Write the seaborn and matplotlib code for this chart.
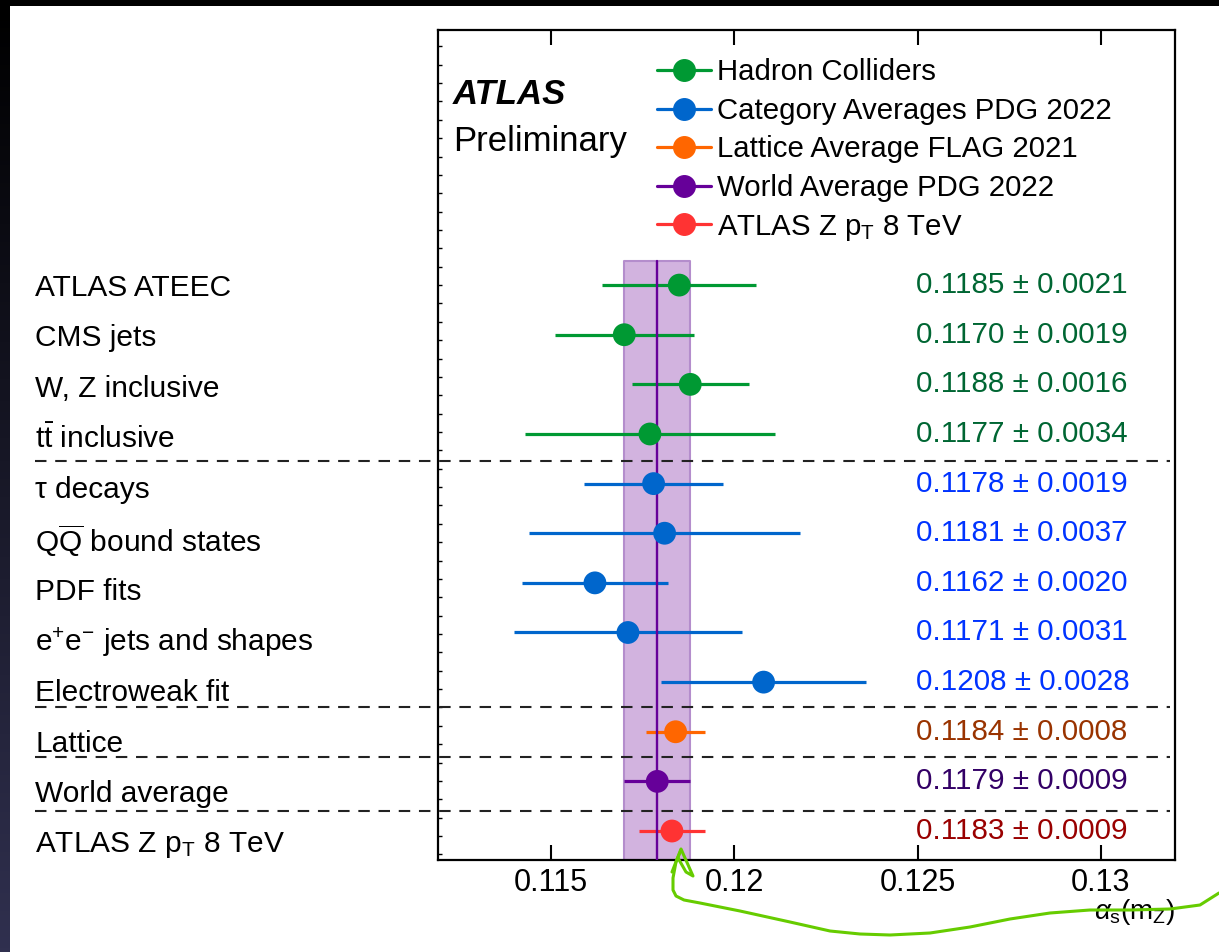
import numpy as np
import pandas as pd
import matplotlib
matplotlib.use("Agg")
import matplotlib.pyplot as plt
import matplotlib.transforms as mtransforms
from matplotlib.lines import Line2D
from matplotlib.patches import Rectangle
from matplotlib.colors import LinearSegmentedColormap
from matplotlib.ticker import MultipleLocator
import seaborn as sns

# --- measurements of alpha_s(mZ) ---
labels = [
    "ATLAS ATEEC",
    "CMS jets",
    "W, Z inclusive",
    r"$\mathrm{t\bar{t}}$ inclusive",
    "τ decays",
    r"$\mathrm{Q\overline{Q}}$ bound states",
    "PDF fits",
    r"e$^{+}$e$^{-}$ jets and shapes",
    "Electroweak fit",
    "Lattice",
    "World average",
    r"ATLAS Z p$_{\mathrm{T}}$ 8 TeV",
]
values = [0.1185, 0.1170, 0.1188, 0.1177,
          0.1178, 0.1181, 0.1162, 0.1171, 0.1208,
          0.1184, 0.1179, 0.1183]
errors = [0.0021, 0.0019, 0.0016, 0.0034,
          0.0019, 0.0037, 0.0020, 0.0031, 0.0028,
          0.0008, 0.0009, 0.0009]
group_names = [
    "Hadron Colliders",
    "Category Averages PDG 2022",
    "Lattice Average FLAG 2021",
    "World Average PDG 2022",
    r"ATLAS Z p$_{\mathrm{T}}$ 8 TeV",
]
group_sizes = [4, 5, 1, 1, 1]
marker_colors = ["#009933", "#0066cc", "#ff6600", "#660099", "#ff3333"]
text_colors = ["#006633", "#0033ff", "#993300", "#330066", "#990000"]
x_ticks = [0.115, 0.12, 0.125, 0.13]
x_tick_labels = ["0.115", "0.12", "0.125", "0.13"]
separators = [3.55, 8.5, 9.5, 10.6]

groups = [g for g, n in zip(group_names, group_sizes) for _ in range(n)]
df = pd.DataFrame({"label": labels, "value": values, "error": errors, "group": groups})
df["row"] = np.arange(len(df))
mcol = dict(zip(group_names, marker_colors))
tcol = dict(zip(group_names, text_colors))

world_val = values[labels.index("World average")]
world_err = errors[labels.index("World average")]

# --- style ---
sns.set_theme(style="white")
plt.rcParams["font.family"] = ["Liberation Sans", "DejaVu Sans"]
plt.rcParams["mathtext.fontset"] = "custom"
plt.rcParams["mathtext.rm"] = "Liberation Sans"
plt.rcParams["mathtext.it"] = "Liberation Sans:italic"
plt.rcParams["mathtext.bf"] = "Liberation Sans:bold"
plt.rcParams["text.color"] = "black"
plt.rcParams["axes.labelcolor"] = "black"
plt.rcParams["xtick.color"] = "black"
plt.rcParams["ytick.color"] = "black"

W, H = 1219, 952
fig = plt.figure(figsize=(W / 100, H / 100), dpi=100)
fig.patch.set_facecolor("white")
ax = fig.add_axes([438 / W, 1 - 860 / H, (1175 - 438) / W, (860 - 30) / H])

xlim = (0.11192, 0.13202)
ylim = (11.584, -5.14)
ax.set_xlim(*xlim)
ax.set_ylim(*ylim)

# world-average band and central line
band_top = -0.48
ax.fill_betweenx([band_top, ylim[0]], world_val - world_err, world_val + world_err,
                 facecolor="#d2b3df", edgecolor="#b48dcc", linewidth=1.5, zorder=1)
ax.plot([world_val, world_val], [band_top, ylim[0]], color="#660099", lw=1.7, zorder=4.5)

# horizontal error bars per group
for g in group_names:
    sub = df[df["group"] == g]
    ax.errorbar(sub["value"], sub["row"], xerr=sub["error"], fmt="none",
                ecolor=mcol[g], elinewidth=2.3, capsize=0, zorder=4)

# central values
sns.scatterplot(data=df, x="value", y="row", hue="group", palette=mcol,
                s=270, edgecolor="none", linewidth=0, legend=False, zorder=5, ax=ax)
ax.set_xlabel("")
ax.set_ylabel("")

# value annotations
blend_ax = mtransforms.blended_transform_factory(ax.transAxes, ax.transData)
for _, r in df.iterrows():
    ax.text(0.6486, r["row"], f"{r['value']:.4f} ± {r['error']:.4f}",
            transform=blend_ax, color=tcol[r["group"]], fontsize=21.3,
            ha="left", va="center", zorder=6)

# row labels on the left (slightly wider line pitch than the data rows)
blend_fig = mtransforms.blended_transform_factory(fig.transFigure, ax.transData)
for _, r in df.iterrows():
    ax.text(35 / W, 0.05 + r["row"] * 1.0214, r["label"], transform=blend_fig,
            fontsize=21.5, color="black", ha="left", va="center", clip_on=False)

# dashed separators between categories
for y in separators:
    fig.add_artist(Line2D([35 / W, 1170 / W], [y, y], transform=blend_fig,
                          color="#222222", lw=1.5, linestyle=(0, (5.5, 4.2))))

# axes and ticks
for s in ax.spines.values():
    s.set_visible(True)
    s.set_color("black")
    s.set_linewidth(1.6)
ax.set_xticks(x_ticks)
ax.set_xticklabels(x_tick_labels)
ax.set_yticks([])
ax.yaxis.set_minor_locator(MultipleLocator(0.37))
ax.tick_params(axis="x", which="major", direction="in", length=11, width=1.5,
               top=True, bottom=True, labelsize=22, pad=6, colors="black")
ax.tick_params(axis="y", which="minor", direction="in", length=3, width=1,
               left=True, right=False)

ax.text(1.0, -(919 - 860) / 830, r"$\alpha_{\rm s}({\rm m}_{\rm Z})$", transform=ax.transAxes,
        fontsize=20, ha="right", va="baseline")

# ATLAS label
ax.text(15 / 737, 1 - 64 / 830, "ATLAS", transform=ax.transAxes, fontsize=25,
        fontweight="bold", fontstyle="italic", ha="left", va="center")
ax.text(15 / 737, 1 - 112 / 830, "Preliminary", transform=ax.transAxes, fontsize=25,
        ha="left", va="center")

# legend
handles = [Line2D([0], [0], color=c, marker="o", markersize=15.5, lw=2.3, label=g)
           for g, c in zip(group_names, marker_colors)]
ax.legend(handles=handles, loc="upper left", bbox_to_anchor=(0.297, 0.966),
          frameon=False, fontsize=21.2, handlelength=1.85, handletextpad=0.2,
          labelspacing=0.36, borderaxespad=0, borderpad=0)

# hand-drawn green arrow pointing at the ATLAS result
px = np.array([681, 676, 673, 673, 676, 684, 700, 740, 790, 830, 860, 890, 930,
               970, 1010, 1050, 1090, 1130, 1170, 1200, 1219])
py = np.array([850, 862, 878, 890, 896, 900, 903, 911, 922, 931, 934, 935, 933,
               927, 919, 913, 910, 910, 909, 905, 893])
fig.add_artist(Line2D(px / W, 1 - py / H, transform=fig.transFigure,
                      color="#66cc00", lw=2.2, solid_capstyle="round", solid_joinstyle="round"))
ax_x = np.array([672, 681, 693, 686, 678])
ax_y = np.array([872, 849, 876, 872, 858])
fig.add_artist(Line2D(ax_x / W, 1 - ax_y / H, transform=fig.transFigure,
                      color="#66cc00", lw=2.2, solid_capstyle="round", solid_joinstyle="round"))

# dark window frame around the slide
fig.add_artist(Rectangle((0, 1 - 6 / H), 1, 6 / H, transform=fig.transFigure,
                         facecolor="black", edgecolor="none", zorder=10))
strip = fig.add_axes([0, 0, 10 / W, 1 - 6 / H])
grad = np.linspace(0, 1, 256).reshape(-1, 1)
strip.imshow(grad, aspect="auto", cmap=LinearSegmentedColormap.from_list("edge", ["#000000", "#30304f"]))
strip.set_axis_off()

fig.savefig("out.png", dpi=100)
